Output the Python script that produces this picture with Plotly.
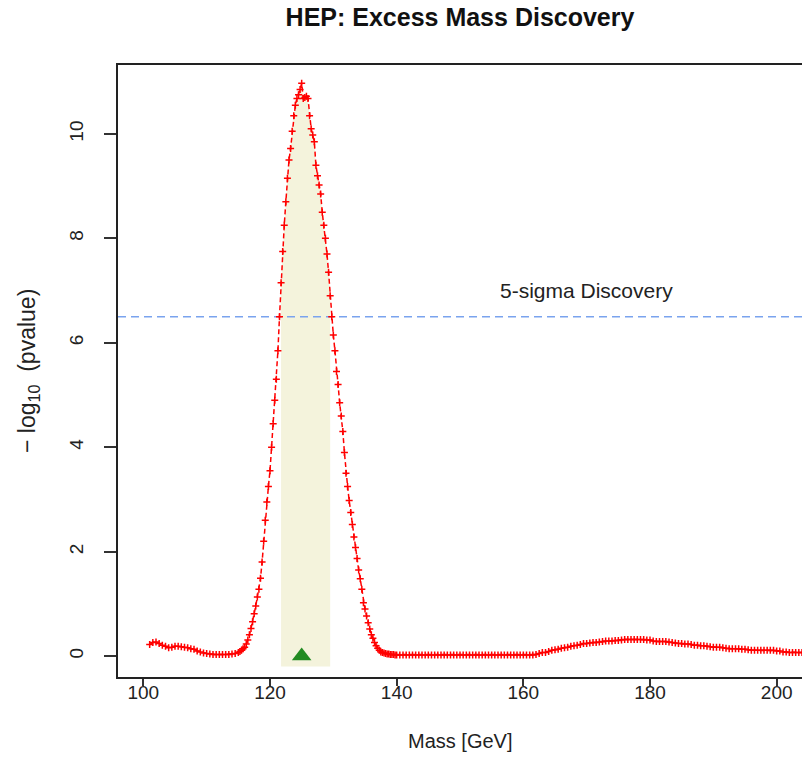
import plotly.graph_objects as go

# ---------------- data ----------------
mass = [
    101.0, 101.5, 102.0, 102.5, 103.0, 103.5, 104.0, 104.5, 105.0, 105.5,
    106.0, 106.5, 107.0, 107.5, 108.0, 108.5, 109.0, 109.5, 110.0, 110.5,
    111.0, 111.5, 112.0, 112.5, 113.0, 113.5, 114.0, 114.5, 115.0,
    115.25, 115.5, 115.75, 116.0, 116.25, 116.5, 116.75, 117.0, 117.25, 117.5,
    117.75, 118.0, 118.25, 118.5, 118.75, 119.0, 119.25, 119.5, 119.75, 120.0,
    120.25, 120.5, 120.75, 121.0, 121.25, 121.5, 121.75, 122.0, 122.25, 122.5,
    122.75, 123.0, 123.25, 123.5, 123.75, 124.0, 124.25, 124.5, 124.75, 125.0,
    125.25, 125.5, 125.75, 126.0, 126.25, 126.5, 126.75, 127.0, 127.25, 127.5,
    127.75, 128.0, 128.25, 128.5, 128.75, 129.0, 129.25, 129.5, 129.75, 130.0,
    130.25, 130.5, 130.75, 131.0, 131.25, 131.5, 131.75, 132.0, 132.25, 132.5,
    132.75, 133.0, 133.25, 133.5, 133.75, 134.0, 134.25, 134.5, 134.75, 135.0,
    135.25, 135.5, 135.75, 136.0, 136.25, 136.5, 136.75, 137.0, 137.25, 137.5,
    137.75, 138.0, 138.25, 138.5, 138.75, 139.0, 139.25, 139.5, 139.75, 140.0,
    140.5, 141.0, 141.5, 142.0, 142.5, 143.0, 143.5, 144.0, 144.5, 145.0,
    145.5, 146.0, 146.5, 147.0, 147.5, 148.0, 148.5, 149.0, 149.5, 150.0,
    150.5, 151.0, 151.5, 152.0, 152.5, 153.0, 153.5, 154.0, 154.5, 155.0,
    155.5, 156.0, 156.5, 157.0, 157.5, 158.0, 158.5, 159.0, 159.5, 160.0,
    160.5, 161.0, 161.5, 162.0, 162.5, 163.0, 163.5, 164.0, 164.5, 165.0,
    165.5, 166.0, 166.5, 167.0, 167.5, 168.0, 168.5, 169.0, 169.5, 170.0,
    170.5, 171.0, 171.5, 172.0, 172.5, 173.0, 173.5, 174.0, 174.5, 175.0,
    175.5, 176.0, 176.5, 177.0, 177.5, 178.0, 178.5, 179.0, 179.5, 180.0,
    180.5, 181.0, 181.5, 182.0, 182.5, 183.0, 183.5, 184.0, 184.5, 185.0,
    185.5, 186.0, 186.5, 187.0, 187.5, 188.0, 188.5, 189.0, 189.5, 190.0,
    190.5, 191.0, 191.5, 192.0, 192.5, 193.0, 193.5, 194.0, 194.5, 195.0,
    195.5, 196.0, 196.5, 197.0, 197.5, 198.0, 198.5, 199.0, 199.5, 200.0,
    200.5, 201.0, 201.5, 202.0, 202.5, 203.0, 203.5, 204.0,
]

neglog_p = [
    0.22, 0.26, 0.27, 0.24, 0.21, 0.19, 0.16, 0.17, 0.19, 0.19,
    0.18, 0.17, 0.16, 0.14, 0.13, 0.10, 0.08, 0.06, 0.05, 0.04,
    0.03, 0.03, 0.03, 0.03, 0.03, 0.03, 0.04, 0.05, 0.07,
    0.09, 0.11, 0.14, 0.17, 0.23, 0.31, 0.41, 0.53, 0.66, 0.81,
    0.96, 1.13, 1.28, 1.49, 1.80, 2.20, 2.60, 2.95, 3.25, 3.55,
    4.00, 4.45, 4.90, 5.30, 5.85, 6.50, 7.15, 7.75, 8.25, 8.70,
    9.15, 9.50, 9.72, 10.05, 10.35, 10.55, 10.68, 10.75, 10.85, 10.97,
    10.68, 10.70, 10.72, 10.68, 10.35, 10.10, 9.98, 9.85, 9.40, 9.20,
    9.02, 8.85, 8.50, 8.25, 8.00, 7.70, 7.35, 6.90, 6.50, 6.15,
    5.85, 5.45, 5.20, 4.85, 4.60, 4.30, 3.90, 3.50, 3.25, 2.98,
    2.75, 2.52, 2.28, 2.08, 1.87, 1.65, 1.48, 1.28, 1.02, 0.90,
    0.77, 0.64, 0.52, 0.41, 0.34, 0.26, 0.20, 0.15, 0.11, 0.08,
    0.07, 0.06, 0.05, 0.04, 0.04, 0.03, 0.03, 0.03, 0.02, 0.02,
    0.02, 0.02, 0.02, 0.02, 0.02, 0.02, 0.02, 0.02, 0.02, 0.02,
    0.02, 0.02, 0.02, 0.02, 0.02, 0.02, 0.02, 0.02, 0.02, 0.02,
    0.02, 0.02, 0.02, 0.02, 0.02, 0.02, 0.02, 0.02, 0.02, 0.02,
    0.02, 0.02, 0.02, 0.02, 0.02, 0.02, 0.02, 0.02, 0.02, 0.02,
    0.02, 0.02, 0.02, 0.03, 0.05, 0.07, 0.07, 0.09, 0.11, 0.12,
    0.13, 0.15, 0.16, 0.17, 0.19, 0.20, 0.21, 0.22, 0.24, 0.24,
    0.25, 0.26, 0.26, 0.27, 0.28, 0.29, 0.29, 0.29, 0.30, 0.30,
    0.31, 0.32, 0.32, 0.32, 0.32, 0.32, 0.32, 0.32, 0.31, 0.31,
    0.29, 0.28, 0.28, 0.28, 0.28, 0.27, 0.26, 0.25, 0.24, 0.24,
    0.23, 0.23, 0.22, 0.21, 0.21, 0.20, 0.20, 0.19, 0.18, 0.17,
    0.17, 0.17, 0.16, 0.15, 0.14, 0.14, 0.14, 0.14, 0.13, 0.13,
    0.12, 0.11, 0.11, 0.11, 0.11, 0.11, 0.11, 0.11, 0.11, 0.10,
    0.10, 0.08, 0.08, 0.07, 0.07, 0.07, 0.07, 0.07,
]
assert len(mass) == len(neglog_p), (len(mass), len(neglog_p))

signal_window = [121.75, 129.5]      # shaded mass window
window_floor = -0.2
best_fit_mass = [125.0]
best_fit_level = [0.0]
discovery_level = 6.5                # 5-sigma threshold on -log10(p)
discovery_label = "5-sigma Discovery"
discovery_label_pos = [170.0, 7.0]

x_ticks = [100, 120, 140, 160, 180, 200]
y_ticks = [0, 2, 4, 6, 8, 10]
x_range = [96, 204]
y_range = [-0.40, 11.32]

FONT = "Liberation Sans, Arial, sans-serif"

# ---------------- figure ----------------
fig = go.Figure()

# shaded window under the curve
win_x = [m for m in mass if signal_window[0] <= m <= signal_window[1]]
win_y = [v for m, v in zip(mass, neglog_p) if signal_window[0] <= m <= signal_window[1]]
poly_x = win_x + [signal_window[1], signal_window[0]]
poly_y = win_y + [window_floor, window_floor]
fig.add_trace(go.Scatter(x=poly_x, y=poly_y, fill="toself", mode="none",
                         fillcolor="#F4F3DC", hoverinfo="skip", showlegend=False))

# discovery threshold line
fig.add_trace(go.Scatter(x=x_range, y=[discovery_level, discovery_level], mode="lines",
                         line=dict(color="#7AA3EE", width=1.5, dash="8px,5px"),
                         hoverinfo="skip", showlegend=False))

# p-value curve
fig.add_trace(go.Scatter(x=mass, y=neglog_p, mode="lines+markers",
                         line=dict(color="#FF0000", width=1.5, dash="5px,3px"),
                         marker=dict(symbol="cross-thin", size=5, color="#FF0000",
                                     line=dict(color="#FF0000", width=1.5)),
                         showlegend=False))

# best-fit mass marker
fig.add_trace(go.Scatter(x=best_fit_mass, y=best_fit_level, mode="markers",
                         marker=dict(symbol="triangle-up", size=17, color="#228B22"),
                         showlegend=False))

fig.add_annotation(x=discovery_label_pos[0], y=discovery_label_pos[1], text=discovery_label,
                   showarrow=False, xanchor="center", yanchor="middle",
                   font=dict(family=FONT, size=21, color="#222222"))

# axis titles as annotations for exact placement
fig.add_annotation(xref="paper", yref="paper", x=0.5, y=-(741 - 677) / 612,
                   text="Mass [GeV]", showarrow=False, xanchor="center", yanchor="middle",
                   font=dict(family=FONT, size=20, color="#222222"))
fig.add_annotation(xref="paper", yref="paper", x=-(118 - 28) / 684, y=0.5,
                   text="\u2212 log<sub>10</sub>  (pvalue)", textangle=-90, showarrow=False,
                   xanchor="center", yanchor="middle",
                   font=dict(family=FONT, size=23, color="#222222"))

fig.update_layout(
    width=802, height=783,
    margin=dict(l=118, r=0, t=65, b=106),
    paper_bgcolor="white", plot_bgcolor="white",
    font=dict(family=FONT, size=19, color="#222222"),
    title=dict(text="<b>HEP: Excess Mass Discovery</b>", x=0.5, xref="paper",
               y=1 - 17 / 783, yref="container", xanchor="center", yanchor="middle",
               font=dict(family=FONT, size=25, color="#111111")),
)

fig.update_xaxes(range=x_range, tickvals=x_ticks, ticks="outside", ticklen=7, tickwidth=1.5,
                 tickcolor="#333333", showline=True, linecolor="#222222", linewidth=1.6,
                 mirror=True, showgrid=False, zeroline=False, ticklabelstandoff=-10,
                 tickfont=dict(family=FONT, size=19, color="#222222"))
fig.update_yaxes(range=y_range, tickvals=y_ticks, ticks="outside", ticklen=12, tickwidth=1.5,
                 tickcolor="#333333", showline=True, linecolor="#222222", linewidth=1.6,
                 mirror=False, showgrid=False, zeroline=False, tickangle=-90,
                 ticklabelstandoff=14,
                 tickfont=dict(family=FONT, size=19, color="#222222"))

fig.write_html("out.html")
